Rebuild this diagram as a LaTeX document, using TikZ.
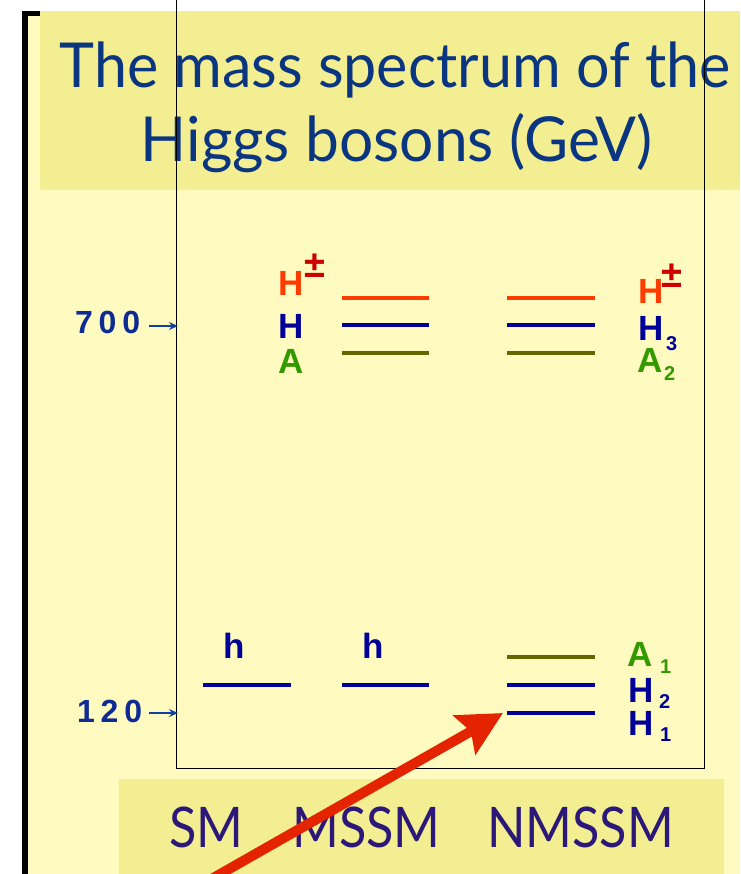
\documentclass[tikz,border=0pt]{standalone}
\usepackage{fontspec}
\setmainfont{Lato}
\newfontfamily\lblfont{Liberation Sans}[BoldFont={Liberation Sans Bold}]
\newfontfamily\numfont{Liberation Sans}[BoldFont={Liberation Sans Bold},LetterSpace=18]
\usetikzlibrary{arrows.meta}
\definecolor{lightbg}{HTML}{FFFBC0}
\definecolor{titlebg}{HTML}{F4EE92}
\definecolor{titleblue}{HTML}{0A3580}
\definecolor{botpurple}{HTML}{2B1878}
\definecolor{horange}{HTML}{FF3C00}
\definecolor{hblue}{HTML}{000099}
\definecolor{agreen}{HTML}{339900}
\definecolor{olive}{HTML}{666600}
\definecolor{pmred}{HTML}{CC0000}
\definecolor{numblue}{HTML}{0D2A95}
\definecolor{arrblue}{HTML}{1040A0}
\definecolor{bigred}{HTML}{E42300}
\tikzset{
  level/.style={line width=4pt},
  lbl/.style={inner sep=0pt, anchor=base west, font=\lblfont\bfseries\fontsize{35}{35}\selectfont},
  sub/.style={inner sep=0pt, anchor=base west, font=\lblfont\bfseries\fontsize{20}{20}\selectfont},
  pm/.style={inner sep=0pt, anchor=center, text=pmred, font=\lblfont\bfseries\fontsize{38}{38}\selectfont},
  num/.style={inner sep=0pt, anchor=base west, font=\numfont\bfseries\fontsize{32}{32}\selectfont},
  title/.style={inner sep=0pt, anchor=base, text=titleblue, font=\fontsize{62}{62}\selectfont},
  model/.style={inner sep=0pt, anchor=base west, text=botpurple, font=\fontsize{56}{56}\selectfont},
  tick/.style={arrblue, line width=1.2pt, -{Stealth[length=9pt,width=8pt]}}
}
\begin{document}
\begin{tikzpicture}[x=1pt,y=-1pt]
\useasboundingbox (0,0) rectangle (740,874);
\clip (0,0) rectangle (740,874);
\fill[white] (0,0) rectangle (740,874);
\fill[lightbg] (28,15) rectangle (740,874);
\fill[black] (22,11) rectangle (28,874);
\fill[black] (22,11) rectangle (40,16);
\fill[titlebg] (40,11) rectangle (740,190);
\fill[titlebg] (119,779) rectangle (724,874);
% title
\node[title] (t1) at (395,88) {\scalebox{0.955}[1]{The mass spectrum of the}};
\node[title] (t2) at (397,162) {\scalebox{0.975}[1]{Higgs bosons (GeV)}};
% frame
\draw[line width=1pt] (176,-5) -- (176,768) -- (704,768) -- (704,-5);
% axis labels
\node[num, text=numblue] (n700) at (75,333) {700};
\node[num, text=numblue] (n120) at (77,722) {120};
\coordinate (a700) at (178,326);
\coordinate (a120) at (178,713);
\draw[tick] (149,326) -- (a700);
\draw[tick] (149,713) -- (a120);
% MSSM heavy
\draw[level, horange] (342,298) -- (429,298);
\draw[level, hblue] (342,325) -- (429,325);
\draw[level, olive] (342,353) -- (429,353);
\node[lbl, text=horange] (mHc) at (278,295) {H};
\node[pm] (mpm) at (315,266) {±};
\node[lbl, text=hblue] (mH) at (278,338) {H};
\node[lbl, text=agreen] (mA) at (278,373) {A};
% NMSSM heavy
\draw[level, horange] (507,298) -- (595,298);
\draw[level, hblue] (507,325) -- (595,325);
\draw[level, olive] (507,353) -- (595,353);
\node[lbl, text=horange] (nHc) at (638,303) {H};
\node[pm] (npm) at (672,276) {±};
\node[lbl, text=hblue] (nH3) at (638,340) {H};
\node[sub, text=hblue] (s3) at (666,350) {3};
\node[lbl, text=agreen] (nA2) at (637,372) {A};
\node[sub, text=agreen] (s2a) at (664,380) {2};
% light
\draw[level, hblue] (203,685) -- (291,685);
\draw[level, hblue] (342,685) -- (429,685);
\node[lbl, text=hblue] (h1) at (223,658) {h};
\node[lbl, text=hblue] (h2) at (362,658) {h};
\draw[level, olive] (507,657) -- (595,657);
\draw[level, hblue] (507,685) -- (595,685);
\draw[level, hblue] (507,713) -- (595,713);
\node[lbl, text=agreen] (nA1) at (627,666) {A};
\node[sub, text=agreen] (s1a) at (660,673) {1};
\node[lbl, text=hblue] (nH2) at (628,702) {H};
\node[sub, text=hblue] (s2h) at (659,708) {2};
\node[lbl, text=hblue] (nH1) at (628,735) {H};
\node[sub, text=hblue] (s1h) at (660,741) {1};
% model names
\node[model] (sm) at (169,847) {\scalebox{0.9}[1]{SM}};
\node[model] (mssm) at (292,847) {\scalebox{0.9}[1]{MSSM}};
\node[model] (nmssm) at (487,847) {\scalebox{0.9}[1]{NMSSM}};
% red arrow
\coordinate (rs) at (208,881);
\coordinate (rt) at (503,713);
\draw[bigred, line width=10pt, -{Stealth[length=44pt,width=44pt,inset=7pt]}] (rs) -- (rt);
\end{tikzpicture}
\end{document}
